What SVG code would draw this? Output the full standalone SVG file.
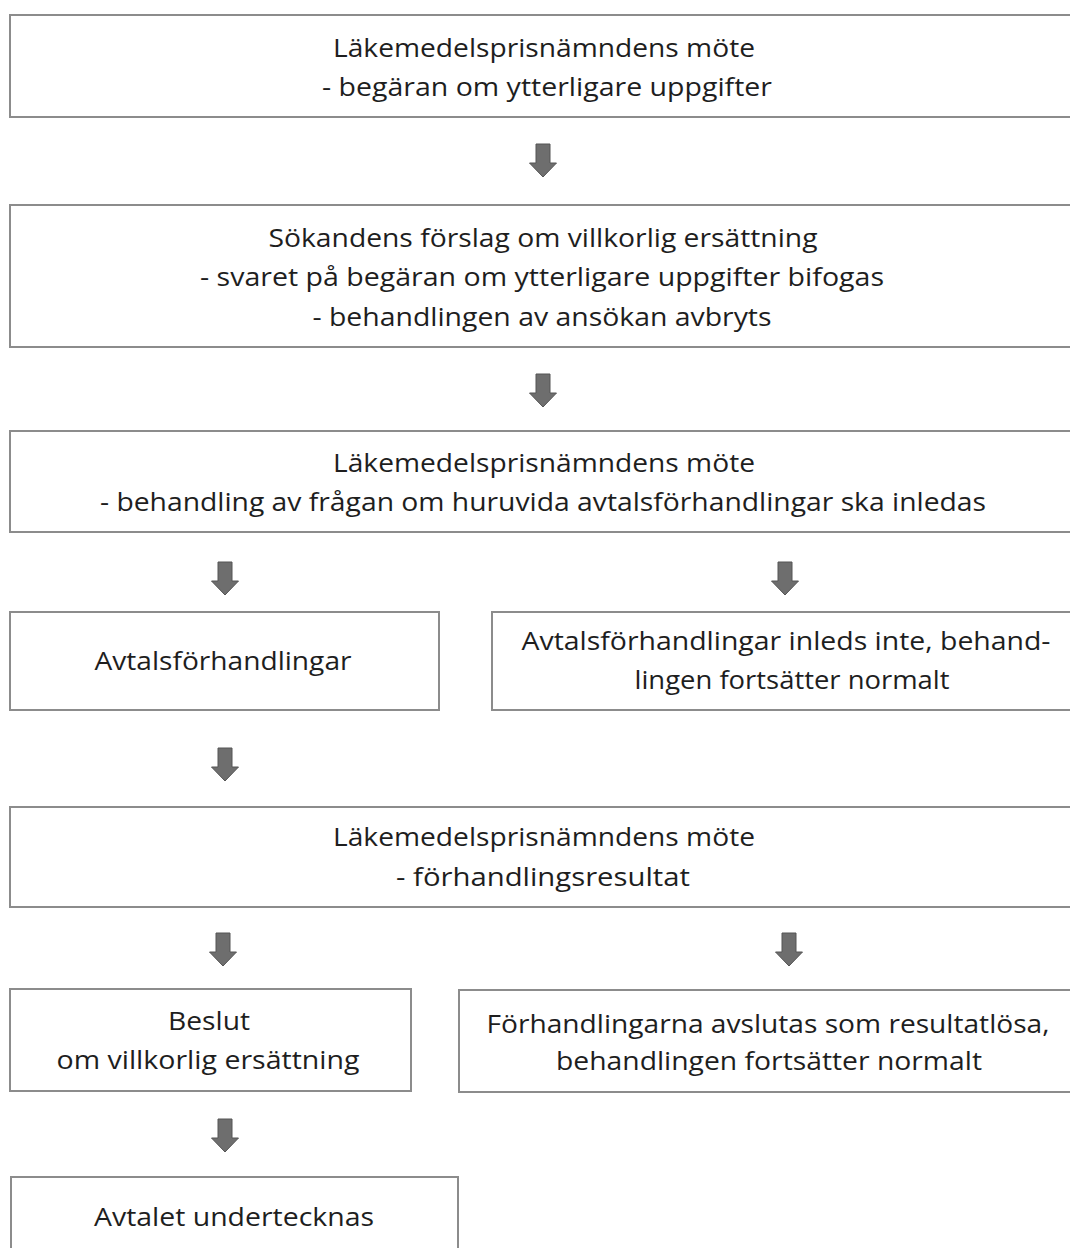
<svg xmlns="http://www.w3.org/2000/svg" width="1070" height="1248" viewBox="0 0 1070 1248">
<style>
.box{fill:#fff;stroke:#8c8c8c;stroke-width:2}
text{font-family:"Open Sans","Liberation Sans",sans-serif;font-size:26px;fill:#1e1e1e;text-anchor:middle}
.arr{fill:#6e6e6e;stroke:#555;stroke-width:1}
</style>
<defs>
<polygon id="dn" class="arr" points="-7,0 7,0 7,19 13.5,19 0,33 -13.5,19 -7,19"/>
</defs>
<rect width="1070" height="1248" fill="#fff"/>
<g id="n1">
<rect class="box" x="10" y="15" width="1080" height="102"/>
<text x="544" y="57" textLength="422" lengthAdjust="spacingAndGlyphs">Läkemedelsprisnämndens möte</text>
<text x="547" y="96" textLength="450" lengthAdjust="spacingAndGlyphs">- begäran om ytterligare uppgifter</text>
</g>
<g id="n2">
<rect class="box" x="10" y="205" width="1080" height="142"/>
<text x="543" y="247" textLength="549" lengthAdjust="spacingAndGlyphs">Sökandens förslag om villkorlig ersättning</text>
<text x="542" y="286" textLength="684" lengthAdjust="spacingAndGlyphs">- svaret på begäran om ytterligare uppgifter bifogas</text>
<text x="542" y="326" textLength="459" lengthAdjust="spacingAndGlyphs">- behandlingen av ansökan avbryts</text>
</g>
<g id="n3">
<rect class="box" x="10" y="431" width="1080" height="101"/>
<text x="544" y="472" textLength="422" lengthAdjust="spacingAndGlyphs">Läkemedelsprisnämndens möte</text>
<text x="543" y="511" textLength="886" lengthAdjust="spacingAndGlyphs">- behandling av frågan om huruvida avtalsförhandlingar ska inledas</text>
</g>
<g id="n4a">
<rect class="box" x="10" y="612" width="429" height="98"/>
<text x="223" y="670" textLength="257" lengthAdjust="spacingAndGlyphs">Avtalsförhandlingar</text>
</g>
<g id="n4b">
<rect class="box" x="492" y="612" width="600" height="98"/>
<text x="786" y="650" textLength="529" lengthAdjust="spacingAndGlyphs">Avtalsförhandlingar inleds inte, behand-</text>
<text x="792" y="689" textLength="315" lengthAdjust="spacingAndGlyphs">lingen fortsätter normalt</text>
</g>
<g id="n5">
<rect class="box" x="10" y="807" width="1080" height="100"/>
<text x="544" y="846" textLength="422" lengthAdjust="spacingAndGlyphs">Läkemedelsprisnämndens möte</text>
<text x="543" y="886" textLength="294" lengthAdjust="spacingAndGlyphs">- förhandlingsresultat</text>
</g>
<g id="n6a">
<rect class="box" x="10" y="989" width="401" height="102"/>
<text x="209" y="1030" textLength="82" lengthAdjust="spacingAndGlyphs">Beslut</text>
<text x="208" y="1069" textLength="303" lengthAdjust="spacingAndGlyphs">om villkorlig ersättning</text>
</g>
<g id="n6b">
<rect class="box" x="459" y="990" width="640" height="102"/>
<text x="768" y="1033" textLength="563" lengthAdjust="spacingAndGlyphs">Förhandlingarna avslutas som resultatlösa,</text>
<text x="769" y="1070" textLength="426" lengthAdjust="spacingAndGlyphs">behandlingen fortsätter normalt</text>
</g>
<g id="n7">
<rect class="box" x="11" y="1177" width="447" height="90"/>
<text x="234" y="1226" textLength="280" lengthAdjust="spacingAndGlyphs">Avtalet undertecknas</text>
</g>
<g id="connectors">
<use href="#dn" x="543" y="144"/>
<use href="#dn" x="543" y="374"/>
<use href="#dn" x="225" y="562"/>
<use href="#dn" x="785" y="562"/>
<use href="#dn" x="225" y="748"/>
<use href="#dn" x="223" y="933"/>
<use href="#dn" x="789" y="933"/>
<use href="#dn" x="225" y="1119"/>
</g>
</svg>
